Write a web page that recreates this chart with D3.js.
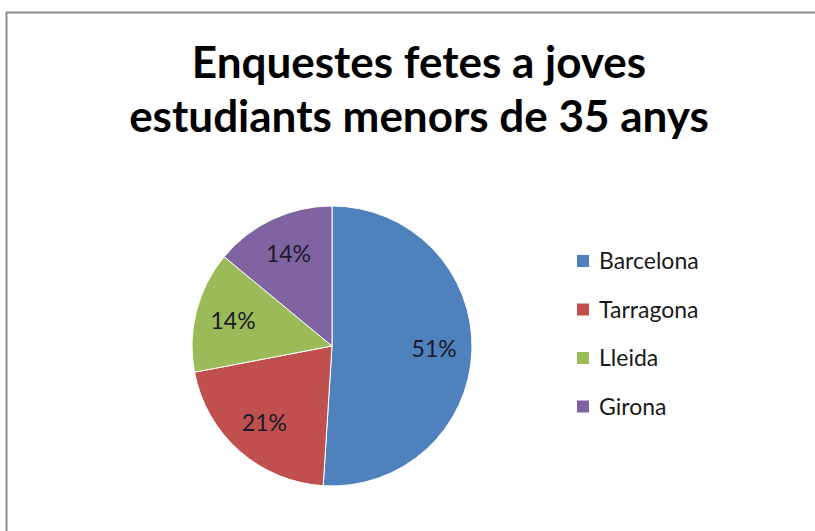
<!DOCTYPE html>
<html>
<head>
<meta charset="utf-8">
<script src="https://cdn.jsdelivr.net/npm/d3@7"></script>
<style>
  body { margin: 0; background: #fff; }
  svg { display: block; }
</style>
</head>
<body>
<svg id="chart" width="815" height="531"></svg>
<script>
const titleLines = ["Enquestes fetes a joves", "estudiants menors de 35 anys"];
const categories = ["Barcelona", "Tarragona", "Lleida", "Girona"];
const values     = [51, 21, 14, 14];
const colors     = ["#4F81BD", "#C0504D", "#9BBB59", "#8064A2"];

const svg    = d3.select("#chart"),
      width  = +svg.attr("width"),
      height = +svg.attr("height"),
      cx     = 332,
      cy     = 346,
      radius = 140;

// chart area frame (only left and top edges are visible in the crop)
svg.append("path")
    .attr("d", `M6.5,${height} V12.5 H${width}`)
    .attr("fill", "none")
    .attr("stroke", "#8c8c8c")
    .attr("stroke-width", 2);

svg.append("g")
    .selectAll("text")
    .data(titleLines)
    .enter().append("text")
      .attr("x", 419)
      .attr("y", (d, i) => 78 + i * 54)
      .attr("text-anchor", "middle")
      .style("font-family", "Lato, 'Open Sans', sans-serif")
      .style("font-size", "44px")
      .style("font-weight", "bold")
      .text(d => d);

const color = d3.scaleOrdinal().domain(categories).range(colors);
const total = d3.sum(values);
const data  = categories.map((c, i) => ({name: c, value: values[i]}));

const pie = d3.pie().sort(null).value(d => d.value);
const arc = d3.arc().innerRadius(0).outerRadius(radius);
const labelArc = d3.arc().innerRadius(radius * 0.73).outerRadius(radius * 0.73);

const g = svg.append("g").attr("transform", `translate(${cx},${cy})`);

g.selectAll("path")
  .data(pie(data))
  .enter().append("path")
    .attr("d", arc)
    .attr("fill", d => color(d.data.name))
    .attr("stroke", "#fff")
    .attr("stroke-width", 1);

g.selectAll("text")
  .data(pie(data))
  .enter().append("text")
    .attr("transform", d => {
      const [x, y] = labelArc.centroid(d);
      return `translate(${x},${y})`;
    })
    .attr("text-anchor", "middle")
    .attr("dy", "0.35em")
    .style("font-family", "Lato, 'Open Sans', sans-serif")
    .style("font-size", "23px")
    .style("fill", "#1a1a2a")
    .text(d => Math.round(d.data.value / total * 100) + "%");

const legend = svg.append("g").attr("transform", "translate(577,261)");
const item = legend.selectAll("g")
  .data(categories)
  .enter().append("g")
    .attr("transform", (d, i) => `translate(0,${i * 48.5})`);

item.append("rect")
    .attr("x", 0)
    .attr("y", -6)
    .attr("width", 12)
    .attr("height", 12)
    .attr("fill", d => color(d));

item.append("text")
    .attr("x", 22)
    .attr("dy", "0.35em")
    .style("font-family", "Lato, 'Open Sans', sans-serif")
    .style("font-size", "23px")
    .style("fill", "#1a1a1a")
    .text(d => d);
</script>
</body>
</html>
